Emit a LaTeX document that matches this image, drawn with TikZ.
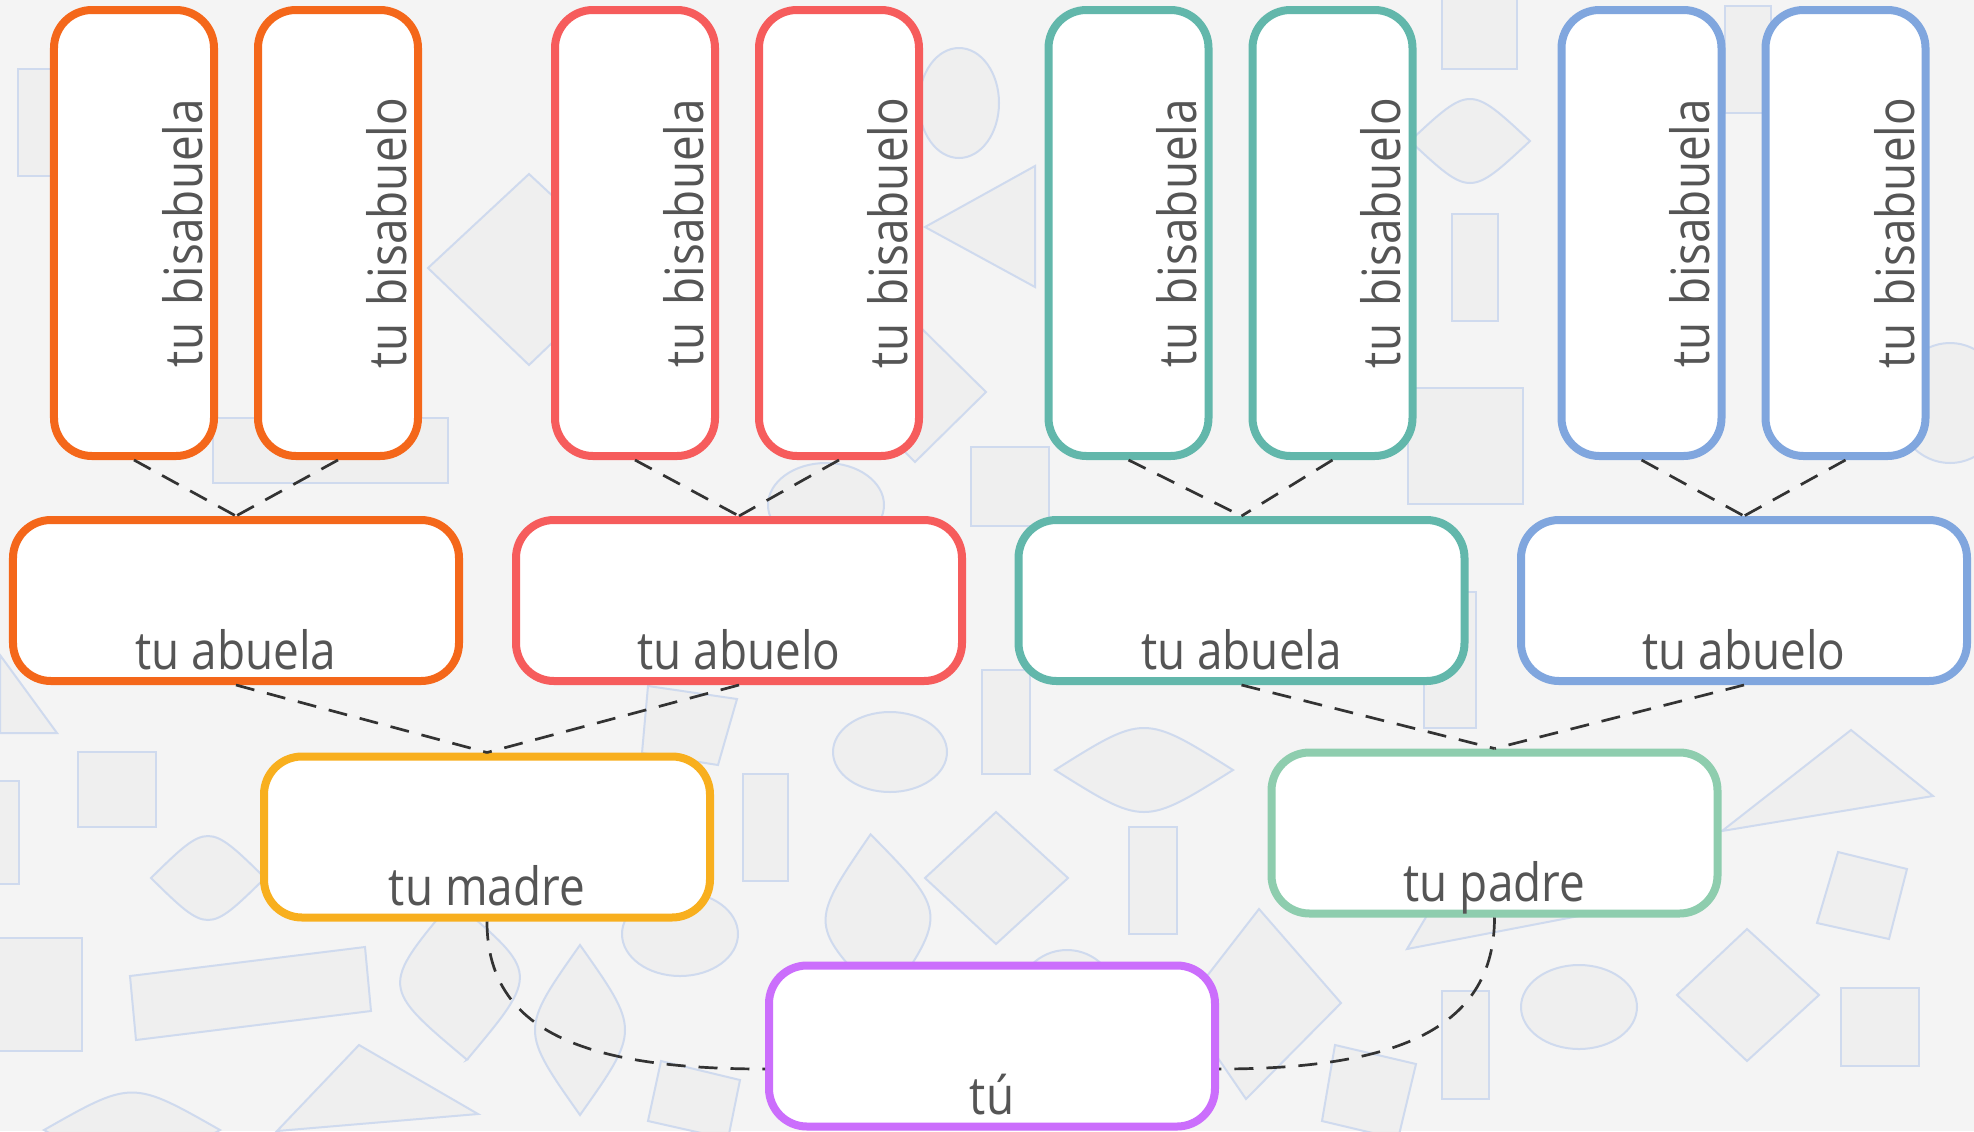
\documentclass[tikz,border=0pt]{standalone}
\usepackage{graphicx}
\usepackage{fontspec}
\setmainfont[FakeStretch=0.87]{Open Sans}
\usetikzlibrary{positioning}
\definecolor{bgcol}{HTML}{F4F4F4}
\definecolor{decofill}{HTML}{EFEFEF}
\definecolor{decoline}{HTML}{CFDAEE}
\definecolor{txtgrey}{HTML}{555555}
\definecolor{linegrey}{HTML}{333333}
\definecolor{orangec}{HTML}{F4671A}
\definecolor{redc}{HTML}{F65C5C}
\definecolor{tealc}{HTML}{62B7AB}
\definecolor{bluec}{HTML}{80A6DE}
\definecolor{yellowc}{HTML}{F8AF1E}
\definecolor{mintc}{HTML}{8ECDAE}
\definecolor{purplec}{HTML}{CB6EFC}

\begin{document}
\begin{tikzpicture}[
boxnode/.style={rectangle, draw, fill=white, line width=0.08cm, rounded corners=0.38cm, inner sep=0pt, text=txtgrey, font=\fontsize{15}{18}\selectfont},
bisnode/.style={boxnode, minimum width=1.6cm, minimum height=4.46cm, inner xsep=0.11cm, text width=1.38cm, align=right},
famnode/.style={boxnode, minimum width=4.46cm, minimum height=1.61cm, text height=1.49cm, text depth=0.12cm},
link/.style={draw=linegrey, line width=0.027cm, dash pattern=on 0.19cm off 0.13cm},
deco/.style={draw=decoline, fill=decofill, line width=0.02cm},
]
\useasboundingbox (0,0) rectangle (19.74,-11.31);

%Background
\begin{scope}
\clip (0,0) rectangle (19.74,-11.31);
\fill[bgcol] (0,0) rectangle (19.74,-11.31);
\foreach \xa/\ya/\xb/\yb in {0.18/-0.69/0.53/-1.76, 2.13/-4.18/4.48/-4.83, 9.71/-4.47/10.49/-5.26,
  14.08/-3.88/15.23/-5.04, 14.52/-2.14/14.98/-3.21, 14.42/0.1/15.17/-0.69, 9.82/-6.70/10.30/-7.74,
  7.43/-7.74/7.88/-8.81, 11.29/-8.27/11.77/-9.34, 0.78/-7.52/1.56/-8.27, -0.1/-7.81/0.19/-8.84,
  -0.1/-9.38/0.82/-10.51, 18.41/-9.88/19.19/-10.66, 14.42/-9.91/14.89/-10.99, 17.25/-0.06/17.71/-1.13,
  14.24/-5.92/14.76/-7.28}
  \draw[deco] (\xa,\ya) rectangle (\xb,\yb);
\foreach \x/\y/\rx/\ry in {9.59/-1.03/0.40/0.55, 8.90/-7.52/0.57/0.40, 6.80/-9.34/0.58/0.42,
  15.79/-10.07/0.58/0.42, 8.26/-5.05/0.58/0.42, 19.5/-4.03/0.55/0.6, 10.67/-10.0/0.5/0.5}
  \draw[deco] (\x,\y) ellipse [x radius=\rx, y radius=\ry];
\foreach \x/\y/\l/\h/\a in {11.44/-7.70/0.89/0.28/0, 14.70/-1.41/0.60/0.28/0, 2.08/-8.78/0.57/0.28/0,
  5.80/-10.30/0.85/0.30/90, 8.78/-9.19/0.85/0.35/95, 1.32/-11.3/0.88/0.25/0, 4.6/-9.8/0.8/0.40/95}
  \draw[deco, rotate around={\a:(\x,\y)}] ({\x-\l},\y) .. controls (\x,{\y+2*\h}) .. ({\x+\l},\y)
    .. controls (\x,{\y-2*\h}) .. cycle;
\draw[deco] (1.30,-9.76) -- (3.65,-9.47) -- (3.71,-10.11) -- (1.36,-10.40) -- cycle;
\draw[deco] (18.38,-8.52) -- (19.07,-8.69) -- (18.89,-9.39) -- (18.17,-9.23) -- cycle;
\draw[deco] (6.61,-10.61) -- (7.40,-10.80) -- (7.28,-11.39) -- (6.48,-11.21) -- cycle;
\draw[deco] (13.35,-10.45) -- (14.16,-10.64) -- (13.98,-11.39) -- (13.22,-11.21) -- cycle;
\draw[deco] (6.48,-6.86) -- (7.37,-6.99) -- (7.18,-7.65) -- (6.42,-7.53) -- cycle;
\draw[deco] (4.28,-2.68) -- (5.29,-1.74) -- (6.30,-2.68) -- (5.29,-3.65) -- cycle;
\draw[deco] (9.25,-8.78) -- (9.96,-8.12) -- (10.68,-8.78) -- (9.96,-9.44) -- cycle;
\draw[deco] (16.77,-9.95) -- (17.47,-9.29) -- (18.19,-9.95) -- (17.47,-10.61) -- cycle;
\draw[deco] (12.59,-9.09) -- (13.41,-10.03) -- (12.46,-10.99) -- (11.83,-10.07) -- cycle;
\draw[deco] (8.45,-3.92) -- (9.15,-3.22) -- (9.86,-3.92) -- (9.15,-4.62) -- cycle;
\draw[deco] (9.25,-2.27) -- (10.35,-1.66) -- (10.35,-2.87) -- cycle;
\draw[deco] (17.22,-8.31) -- (18.51,-7.30) -- (19.33,-7.96) -- cycle;
\draw[deco] (2.77,-11.31) -- (3.59,-10.45) -- (4.78,-11.14) -- cycle;
\draw[deco] (0,-6.55) -- (0.57,-7.33) -- (0,-7.33) -- cycle;
\draw[deco] (14.07,-9.49) -- (16.1,-9.1) -- (14.6,-8.6) -- cycle;
\end{scope}

%Nodes
\node[bisnode, draw=orangec] (b1) at (1.34,-2.33)    {\rotatebox{90}{tu bisabuela}};
\node[bisnode, draw=orangec] (b2) [right=0.36cm of b1] {\rotatebox{90}{tu bisabuelo}};
\node[bisnode, draw=redc]    (b3) at (6.35,-2.33)    {\rotatebox{90}{tu bisabuela}};
\node[bisnode, draw=redc]    (b4) [right=0.36cm of b3] {\rotatebox{90}{tu bisabuelo}};
\node[bisnode, draw=tealc]   (b5) at (11.285,-2.33)  {\rotatebox{90}{tu bisabuela}};
\node[bisnode, draw=tealc]   (b6) [right=0.36cm of b5] {\rotatebox{90}{tu bisabuelo}};
\node[bisnode, draw=bluec]   (b7) at (16.415,-2.33)  {\rotatebox{90}{tu bisabuela}};
\node[bisnode, draw=bluec]   (b8) [right=0.36cm of b7] {\rotatebox{90}{tu bisabuelo}};

\node[famnode, draw=orangec] (ga) at (2.36,-6.005)   {tu abuela};
\node[famnode, draw=redc]    (gb) at (7.39,-6.005)   {tu abuelo};
\node[famnode, draw=tealc]   (gc) at (12.415,-6.005) {tu abuela};
\node[famnode, draw=bluec]   (gd) at (17.44,-6.005)  {tu abuelo};

\node[famnode, draw=yellowc] (madre) at (4.87,-8.37)   {tu madre};
\node[famnode, draw=mintc]   (padre) at (14.945,-8.33) {tu padre};

\node[famnode, draw=purplec] (tu) at (9.92,-10.46) {tú};

%Lines
\draw[link] (b1.south) -- (ga.north);
\draw[link] (b2.south) -- (ga.north);
\draw[link] (b3.south) -- (gb.north);
\draw[link] (b4.south) -- (gb.north);
\draw[link] (b5.south) -- (gc.north);
\draw[link] (b6.south) -- (gc.north);
\draw[link] (b7.south) -- (gd.north);
\draw[link] (b8.south) -- (gd.north);

\draw[link] (ga.south) -- (madre.north);
\draw[link] (gb.south) -- (madre.north);
\draw[link] (gc.south) -- (padre.north);
\draw[link] (gd.south) -- (padre.north);

\draw[link] (madre.south) .. controls +(0,-1.1) and +(-1.8,0) .. ([yshift=-0.23cm]tu.west);
\draw[link] (padre.south) .. controls +(0,-1.1) and +(1.8,0) .. ([yshift=-0.23cm]tu.east);

\end{tikzpicture}
\end{document}
